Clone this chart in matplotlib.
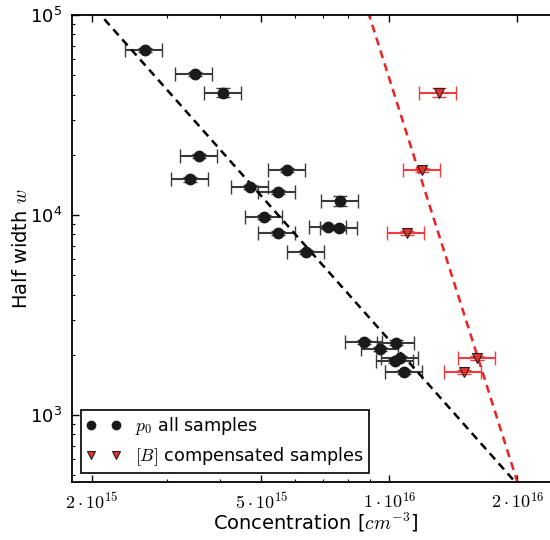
import numpy as np
import matplotlib.pyplot as plt
from matplotlib.ticker import FixedLocator, FixedFormatter, LogLocator, NullFormatter

plt.rcParams['mathtext.fontset'] = 'cm'
plt.rcParams['font.family'] = 'DejaVu Sans'

# hole concentration p0 for all samples [cm^-3] and fitted half width w
p0 = [2.66e15, 3.49e15, 4.07e15, 3.57e15, 3.40e15, 5.76e15, 4.71e15, 5.47e15,
      7.67e15, 5.08e15, 7.19e15, 7.63e15, 5.47e15, 6.37e15,
      8.73e15, 1.038e16, 9.52e15, 1.033e16, 1.061e16, 1.084e16]
w_all = [66800, 50700, 40900, 19700, 15100, 16800, 13800, 13000,
         11750, 9800, 8740, 8580, 8160, 6555,
         2317, 2299, 2145, 1856, 1921, 1646]
w_all_err = [1500, 1200, 2100, 500, 400, 400, 350, 300,
             700, 250, 200, 200, 200, 150,
             60, 60, 50, 45, 45, 40]

# boron concentration for the compensated samples
b_conc = [1.306e16, 1.197e16, 1.10e16, 1.608e16, 1.495e16]
w_comp = [40900, 16800, 8160, 1921, 1646]
w_comp_err = [2100, 400, 200, 45, 40]

rel_xerr = 0.10  # 10 % uncertainty on the concentration

# power law fits w = w0 * (N / 1e16) ** (-k)
fit_all = (2366, 2.396)
fit_comp = (48130, 6.70)

x_ticks = [2e15, 5e15, 1e16, 2e16]
x_tick_labels = [r'$2\cdot10^{15}$', r'$5\cdot10^{15}$', r'$1\cdot10^{16}$', r'$2\cdot10^{16}$']

fig = plt.figure(figsize=(5.5, 5.4), dpi=100)
ax = fig.add_axes([0.1309, 0.1074, 0.8873, 0.8648])
ax.set_xscale('log')
ax.set_yscale('log')

p0 = np.array(p0)
b_conc = np.array(b_conc)

ax.errorbar(p0, w_all, xerr=rel_xerr * p0, yerr=w_all_err, fmt='none',
            ecolor='#3a3a3a', elinewidth=1.5, capsize=5, capthick=1.0)
ax.errorbar(b_conc, w_comp, xerr=rel_xerr * b_conc, yerr=w_comp_err, fmt='none',
            ecolor='#f03c3c', elinewidth=1.5, capsize=5, capthick=1.0)

ax.plot(p0, w_all, 'o', color='#1a1a1a', mec='#1a1a1a', ms=7.5,
        label=r'$p_0$ all samples', zorder=3)
ax.plot(b_conc, w_comp, 'v', color='#e8302a', mec='#222222', mew=0.8, ms=7.5,
        label=r'$[B]$ compensated samples', zorder=3)

n = np.logspace(np.log10(1.5e15), np.log10(3e16), 200)
ax.plot(n, fit_all[0] * (n / 1e16) ** (-fit_all[1]), '--', color='black',
        lw=1.8, dashes=(3.2, 2.2), zorder=2)
ax.plot(n, fit_comp[0] * (n / 1e16) ** (-fit_comp[1]), '--', color='#ee2020',
        lw=1.8, dashes=(3.2, 2.2), zorder=2)

ax.set_xlim(1.795e15, 2.52e16)
ax.set_ylim(462, 1e5)

ax.xaxis.set_major_locator(FixedLocator(x_ticks))
ax.xaxis.set_major_formatter(FixedFormatter(x_tick_labels))
ax.xaxis.set_minor_locator(LogLocator(base=10, subs=np.arange(2, 10)))
ax.xaxis.set_minor_formatter(NullFormatter())

ax.tick_params(which='both', direction='in', top=True, right=True, labelsize=13)
ax.tick_params(which='major', length=5, width=1.0, pad=7)
ax.tick_params(which='minor', length=2.5, width=0.8)
for s in ax.spines.values():
    s.set_linewidth(1.3)

ax.set_xlabel(r'Concentration [$cm^{-3}$]', fontsize=14, labelpad=-1)
ax.set_ylabel(r'Half width $w$', fontsize=14, labelpad=-1)

leg = ax.legend(loc='lower left', numpoints=2, fontsize=12.7, fancybox=False,
                framealpha=1, edgecolor='black', borderaxespad=0.5,
                borderpad=0.3, labelspacing=0.45, markerscale=0.8)
leg.get_frame().set_linewidth(1.2)

fig.savefig('out.png', dpi=100)
